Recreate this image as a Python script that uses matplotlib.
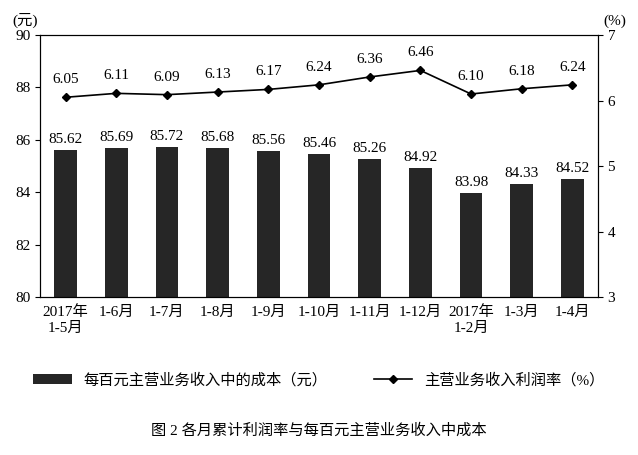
import matplotlib
matplotlib.use("Agg")
import matplotlib.pyplot as plt

plt.rcParams['font.family'] = ['Liberation Serif', 'Noto Sans CJK SC']

cats = ["2017年\n1-5月", "1-6月", "1-7月", "1-8月", "1-9月", "1-10月", "1-11月", "1-12月",
        "2017年\n1-2月", "1-3月", "1-4月"]
cost = [85.62, 85.69, 85.72, 85.68, 85.56, 85.46, 85.26, 84.92, 83.98, 84.33, 84.52]
rate = [6.05, 6.11, 6.09, 6.13, 6.17, 6.24, 6.36, 6.46, 6.10, 6.18, 6.24]

fig = plt.figure(figsize=(6.38, 4.55), dpi=100)
ax = fig.add_axes([0.063, 0.347, 0.874, 0.576])
x = list(range(len(cats)))
bars = ax.bar(x, cost, width=0.45, color="#262626", label="每百元主营业务收入中的成本（元）")
ax.set_ylim(80, 90)
ax.set_yticks(range(80, 91, 2))
ax.set_xlim(-0.5, len(cats) - 0.5)
ax.set_xticks(x)
ax.set_xticklabels(cats, fontsize=11)
ax.tick_params(labelsize=11)
ax.tick_params(axis="x", length=0, pad=6)
for xi, v in zip(x, cost):
    ax.text(xi, v + 0.15, f"{v:.2f}", ha="center", va="bottom", fontsize=11)

ax2 = ax.twinx()
line, = ax2.plot(x, rate, color="black", marker="D", markersize=4, lw=1.2,
                 label="主营业务收入利润率（%）")
ax2.set_ylim(3, 7)
ax2.set_yticks(range(3, 8))
ax2.tick_params(labelsize=11)
for xi, v in zip(x, rate):
    ax2.text(xi, v + 0.17, f"{v:.2f}", ha="center", va="bottom", fontsize=11)

fig.text(0.02, 0.945, "(元)", fontsize=11)
fig.text(0.945, 0.945, "(%)", fontsize=11)
fig.legend(handles=[bars, line], loc="center", bbox_to_anchor=(0.5, 0.165), ncol=2,
           frameon=False, fontsize=11, handlelength=2.5, columnspacing=3)
fig.text(0.5, 0.045, "图 2 各月累计利润率与每百元主营业务收入中成本", ha="center", fontsize=11)
fig.savefig("out.png", dpi=100)
